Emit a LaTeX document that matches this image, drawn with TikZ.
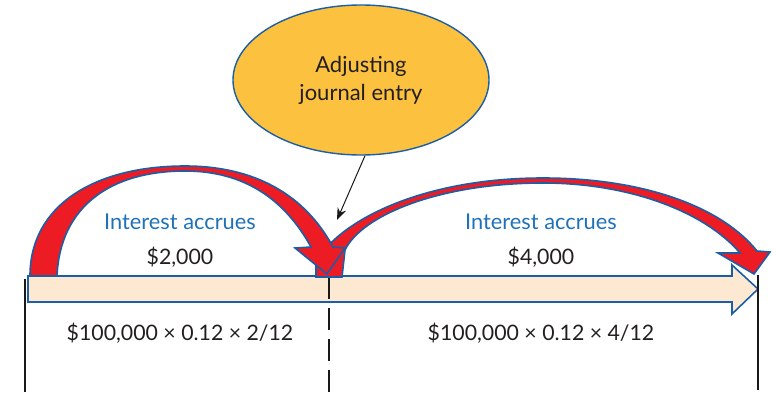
\documentclass[tikz,border=0pt]{standalone}
\usepackage{fontspec}
\setmainfont{Lato}
\usetikzlibrary{arrows.meta,shapes.geometric}

\definecolor{arrowred}{HTML}{ED1C24}
\definecolor{outlineblue}{HTML}{1B5EA6}
\definecolor{textblue}{HTML}{1F72B8}
\definecolor{bandpeach}{HTML}{FDE8D2}
\definecolor{jeyellow}{HTML}{FCC23F}
\definecolor{textdark}{HTML}{231F20}

\begin{document}
\begin{tikzpicture}[x=1pt, y=-1pt,
    accrual/.style={fill=arrowred, draw=outlineblue, line width=1.6pt, line join=miter},
    timeband/.style={fill=bandpeach, draw=outlineblue, line width=1.6pt},
    tickline/.style={draw=black!90, line width=2pt},
    bluelabel/.style={text=textblue, font=\fontsize{21.8}{26}\selectfont},
    darklabel/.style={text=textdark, font=\fontsize{21.3}{26}\selectfont}]
    \useasboundingbox (0,0) rectangle (774,402);

    % time line
    \draw[timeband] (28,276) -- (732,276) -- (732,265) -- (758,289) -- (732,314) -- (732,302) -- (28,302) -- cycle;

    \coordinate (startTop) at (25,279);
    \coordinate (startBot) at (25,392);
    \coordinate (adjTop) at (329,277);
    \coordinate (adjBot) at (329,392);
    \coordinate (endTop) at (758,275);
    \coordinate (endBot) at (758,390);
    \draw[tickline] (startTop) -- (startBot);
    \draw[tickline, dash pattern=on 22pt off 9pt] (adjTop) -- (adjBot);
    \draw[tickline] (endTop) -- (endBot);

    % accrual arrows
    \draw[accrual] (316,277) -- (316,262) .. controls (338,222) and (420,178) .. (543,178)
        .. controls (640,178) and (720,205) .. (757,251) -- (770,252) -- (754,274) -- (718,253) -- (740,253)
        .. controls (705,212) and (630,183) .. (543,183) .. controls (440,183) and (362,215) .. (345,250)
        -- (342,277) -- cycle;
    \draw[accrual] (30,276) .. controls (30,205) and (95,166) .. (185,166)
        .. controls (255,166) and (305,195) .. (333,247) -- (345,248) -- (327,274) -- (295,248) -- (311,247)
        .. controls (285,200) and (245,171) .. (185,171) .. controls (110,171) and (60,207) .. (57,276) -- cycle;

    % labels
    \node[bluelabel] (accrLeft) at (180,222) {Interest accrues};
    \node[darklabel] (amtLeft) at (180,257) {\$2,000};
    \node[bluelabel] (accrRight) at (541,222) {Interest accrues};
    \node[darklabel] (amtRight) at (541,257) {\$4,000};
    \node[darklabel] (calcLeft) at (180,333) {\$100,000 × 0.12 × 2/12};
    \node[darklabel] (calcRight) at (541,333) {\$100,000 × 0.12 × 4/12};

    % adjusting entry
    \node[ellipse, fill=jeyellow, draw=outlineblue, line width=1.4pt, minimum width=256pt, minimum height=150pt,
        inner sep=0pt, align=center, darklabel, font=\fontsize{22}{26}\selectfont] (adjEntry) at (361,80) {Adjusting\\[2pt]journal entry};
    \coordinate (adjPoint) at (337,220);
    \draw[-{Stealth[length=12pt,width=9pt]}, line width=1pt, black!90] (adjEntry.south) ++(4,0) -- (adjPoint);
\end{tikzpicture}
\end{document}
